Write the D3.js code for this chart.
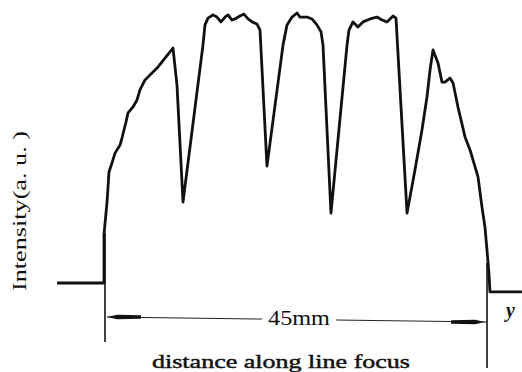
<!DOCTYPE html>
<html>
<head>
<meta charset="utf-8">
<script src="https://cdn.jsdelivr.net/npm/d3@7"></script>
<style>
  body { margin: 0; background: #fff; }
  svg { display: block; }
  text { font-family: "Liberation Serif", "DejaVu Serif", serif; fill: #111; }
</style>
</head>
<body>
<div id="viz"></div>
<script>
// distance along the line focus (mm) and intensity (a.u.)
var distance = [-5.65, -0.12, -0.12, 0.24, 0.47, 0.82, 1.18, 1.77, 2.00, 2.47, 2.71, 3.30, 3.77, 4.12,
  4.71, 5.30, 6.13, 7.07, 8.01, 8.48, 9.19,
  11.54, 11.78, 12.13, 12.72, 13.19, 13.66, 14.14, 14.49, 14.96, 15.31, 15.90, 16.37, 16.85, 17.32, 17.91, 18.26,
  19.08,
  20.97, 21.44, 22.03, 22.62, 22.97, 23.80, 24.38, 24.97, 25.45, 25.68,
  26.62,
  28.51, 28.74, 29.21, 29.80, 30.39, 31.22, 32.04, 32.63, 33.22, 33.93, 34.28,
  35.58,
  36.52, 37.34, 37.93, 38.29, 38.64, 39.23, 39.70, 40.05, 40.64, 41.00, 41.58, 42.41, 43.00, 43.70, 43.94,
  44.41, 44.76, 45.00, 45.24, 45.35, 45.47, 49.12];
var intensity = [0, 0, 17.8, 30.0, 41.1, 44.4, 48.1, 51.1, 53.7, 59.6, 63.0, 65.2, 67.8, 71.5,
  75.2, 77.0, 79.6, 83.3, 87.0, 73.3, 30.0,
  88.1, 95.6, 98.1, 99.3, 98.5, 96.7, 98.5, 99.3, 97.4, 97.8, 98.9, 99.6, 97.8, 96.7, 95.9, 93.7,
  43.3,
  88.1, 95.6, 98.5, 100, 98.5, 98.5, 97.8, 95.6, 93.0, 88.1,
  25.9,
  88.1, 93.7, 96.7, 94.8, 96.7, 97.8, 98.5, 97.4, 96.7, 98.9, 98.1,
  25.9,
  41.9, 56.7, 68.9, 78.9, 86.3, 81.5, 74.4, 74.4, 75.9, 74.1, 65.2, 54.1, 49.3, 41.9, 39.3,
  28.1, 20.7, 12.2, 3.0, -3.3, -3.3, -3.3];

var spanLabel = "45mm";
var xTitle = "distance along line focus";
var yTitle = "Intensity(a. u. )";
var axisName = "y";

var width = 522, height = 372;

var x = d3.scaleLinear().domain([0, 45]).range([105, 487]);
var y = d3.scaleLinear().domain([0, 100]).range([283, 13]);

var svg = d3.select('#viz').append('svg')
  .attr('width', width)
  .attr('height', height);

var pts = distance.map(function(d, i) { return [d, intensity[i]]; });

var line = d3.line()
  .x(function(d) { return x(d[0]); })
  .y(function(d) { return y(d[1]); });

// extension lines at both ends of the 45 mm span
svg.append('line')
  .attr('x1', x(0)).attr('x2', x(0))
  .attr('y1', y(0) - 50).attr('y2', 342)
  .attr('stroke', '#111').attr('stroke-width', 1.6);
svg.append('line')
  .attr('x1', x(45)).attr('x2', x(45))
  .attr('y1', y(0) - 20).attr('y2', 368)
  .attr('stroke', '#111').attr('stroke-width', 1.6);

// intensity trace
svg.append('path')
  .datum(pts)
  .attr('d', line)
  .attr('fill', 'none')
  .attr('stroke', '#111')
  .attr('stroke-width', 2.8)
  .attr('stroke-linejoin', 'round');

// dimension line with arrows
var dimY0 = 317, dimY1 = 322;
var dy = d3.scaleLinear().domain([0, 45]).range([dimY0, dimY1]);
var gapL = 262, gapR = 336;
svg.append('line')
  .attr('x1', x(0) + 2).attr('y1', dy(0))
  .attr('x2', gapL).attr('y2', dy(x.invert(gapL)))
  .attr('stroke', '#222').attr('stroke-width', 1.1);
svg.append('line')
  .attr('x1', gapR).attr('y1', dy(x.invert(gapR)))
  .attr('x2', x(45)).attr('y2', dy(45))
  .attr('stroke', '#222').attr('stroke-width', 1.1);

function arrow(tipMm, dir) {
  var tx = x(tipMm) + dir * 2, ty = dy(tipMm);
  var p = [[tx, ty], [tx + dir * 10, ty - 2.2], [tx + dir * 34, ty - 1.8],
           [tx + dir * 34, ty + 1.8], [tx + dir * 10, ty + 2.2]];
  svg.append('path')
    .attr('d', 'M' + p.join('L') + 'Z')
    .attr('fill', '#111');
}
arrow(0, 1);
arrow(45, -1);

svg.append('text')
  .attr('x', (gapL + gapR) / 2)
  .attr('y', 325)
  .attr('text-anchor', 'middle')
  .attr('font-size', 20)
  .attr('textLength', 62)
  .attr('lengthAdjust', 'spacingAndGlyphs')
  .text(spanLabel);

svg.append('text')
  .attr('x', 152)
  .attr('y', 368)
  .attr('font-size', 19)
  .attr('stroke', '#111')
  .attr('stroke-width', 0.45)
  .attr('textLength', 258)
  .attr('lengthAdjust', 'spacingAndGlyphs')
  .text(xTitle);

svg.append('text')
  .attr('transform', 'translate(26,291) rotate(-90)')
  .attr('font-size', 18)
  .attr('textLength', 160)
  .attr('lengthAdjust', 'spacingAndGlyphs')
  .text(yTitle);

svg.append('text')
  .attr('x', 506)
  .attr('y', 317)
  .attr('font-size', 20)
  .attr('font-style', 'italic')
  .attr('font-weight', 'bold')
  .text(axisName);
</script>
</body>
</html>
